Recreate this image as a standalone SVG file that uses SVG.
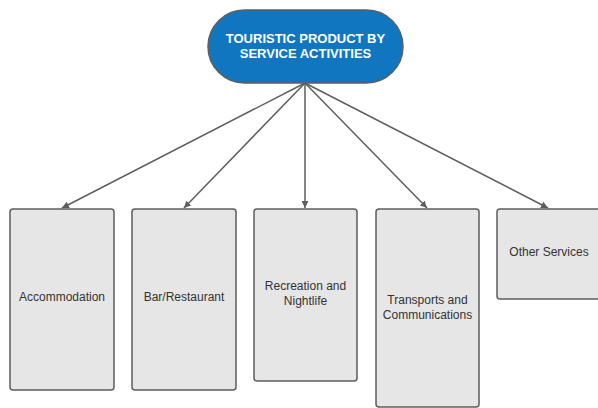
<svg xmlns="http://www.w3.org/2000/svg" width="598" height="408" viewBox="0 0 598 408">
<style>
.box{fill:#e6e6e6;stroke:#5e5e5e;stroke-width:1.5}
.lbl{font-family:"Liberation Sans",Arial,sans-serif;font-size:12px;fill:#333;text-anchor:middle}
.title{font-family:"Liberation Sans",Arial,sans-serif;font-size:13px;font-weight:bold;fill:#fff;text-anchor:middle}
.edge{stroke:#5e5e5e;stroke-width:1.5;fill:none;marker-end:url(#arr)}
</style>
<defs>
<marker id="arr" viewBox="0 0 10 10" refX="10" refY="5" markerWidth="7" markerHeight="7" markerUnits="userSpaceOnUse" orient="auto">
<path d="M0,0 L10,5 L0,10 z" fill="#5e5e5e"/>
</marker>
</defs>
<g id="connectors">
<line class="edge" x1="305" y1="83" x2="62" y2="208"/>
<line class="edge" x1="305" y1="83" x2="184" y2="208"/>
<line class="edge" x1="305" y1="83" x2="305" y2="208"/>
<line class="edge" x1="305" y1="83" x2="427" y2="208"/>
<line class="edge" x1="305" y1="83" x2="548" y2="208"/>
</g>
<g id="root">
<rect x="208" y="10" width="195" height="73" rx="36.5" fill="#1176c0" stroke="#5e5e5e" stroke-width="1.5"/>
<text class="title" x="305.5" y="43">TOURISTIC PRODUCT BY</text>
<text class="title" x="305.5" y="58">SERVICE ACTIVITIES</text>
</g>
<g id="accommodation">
<rect class="box" x="10" y="209" width="104" height="181" rx="3"/>
<text class="lbl" x="62" y="301">Accommodation</text>
</g>
<g id="bar">
<rect class="box" x="132" y="209" width="104" height="181" rx="3"/>
<text class="lbl" x="184" y="301">Bar/Restaurant</text>
</g>
<g id="recreation">
<rect class="box" x="254" y="209" width="103" height="172" rx="3"/>
<text class="lbl" x="305.5" y="290">Recreation and</text>
<text class="lbl" x="305.5" y="305">Nightlife</text>
</g>
<g id="transports">
<rect class="box" x="376" y="209" width="103" height="198" rx="3"/>
<text class="lbl" x="427.5" y="304">Transports and</text>
<text class="lbl" x="427.5" y="319">Communications</text>
</g>
<g id="other">
<rect class="box" x="497" y="209" width="104" height="90" rx="3"/>
<text class="lbl" x="549" y="256">Other Services</text>
</g>
</svg>
